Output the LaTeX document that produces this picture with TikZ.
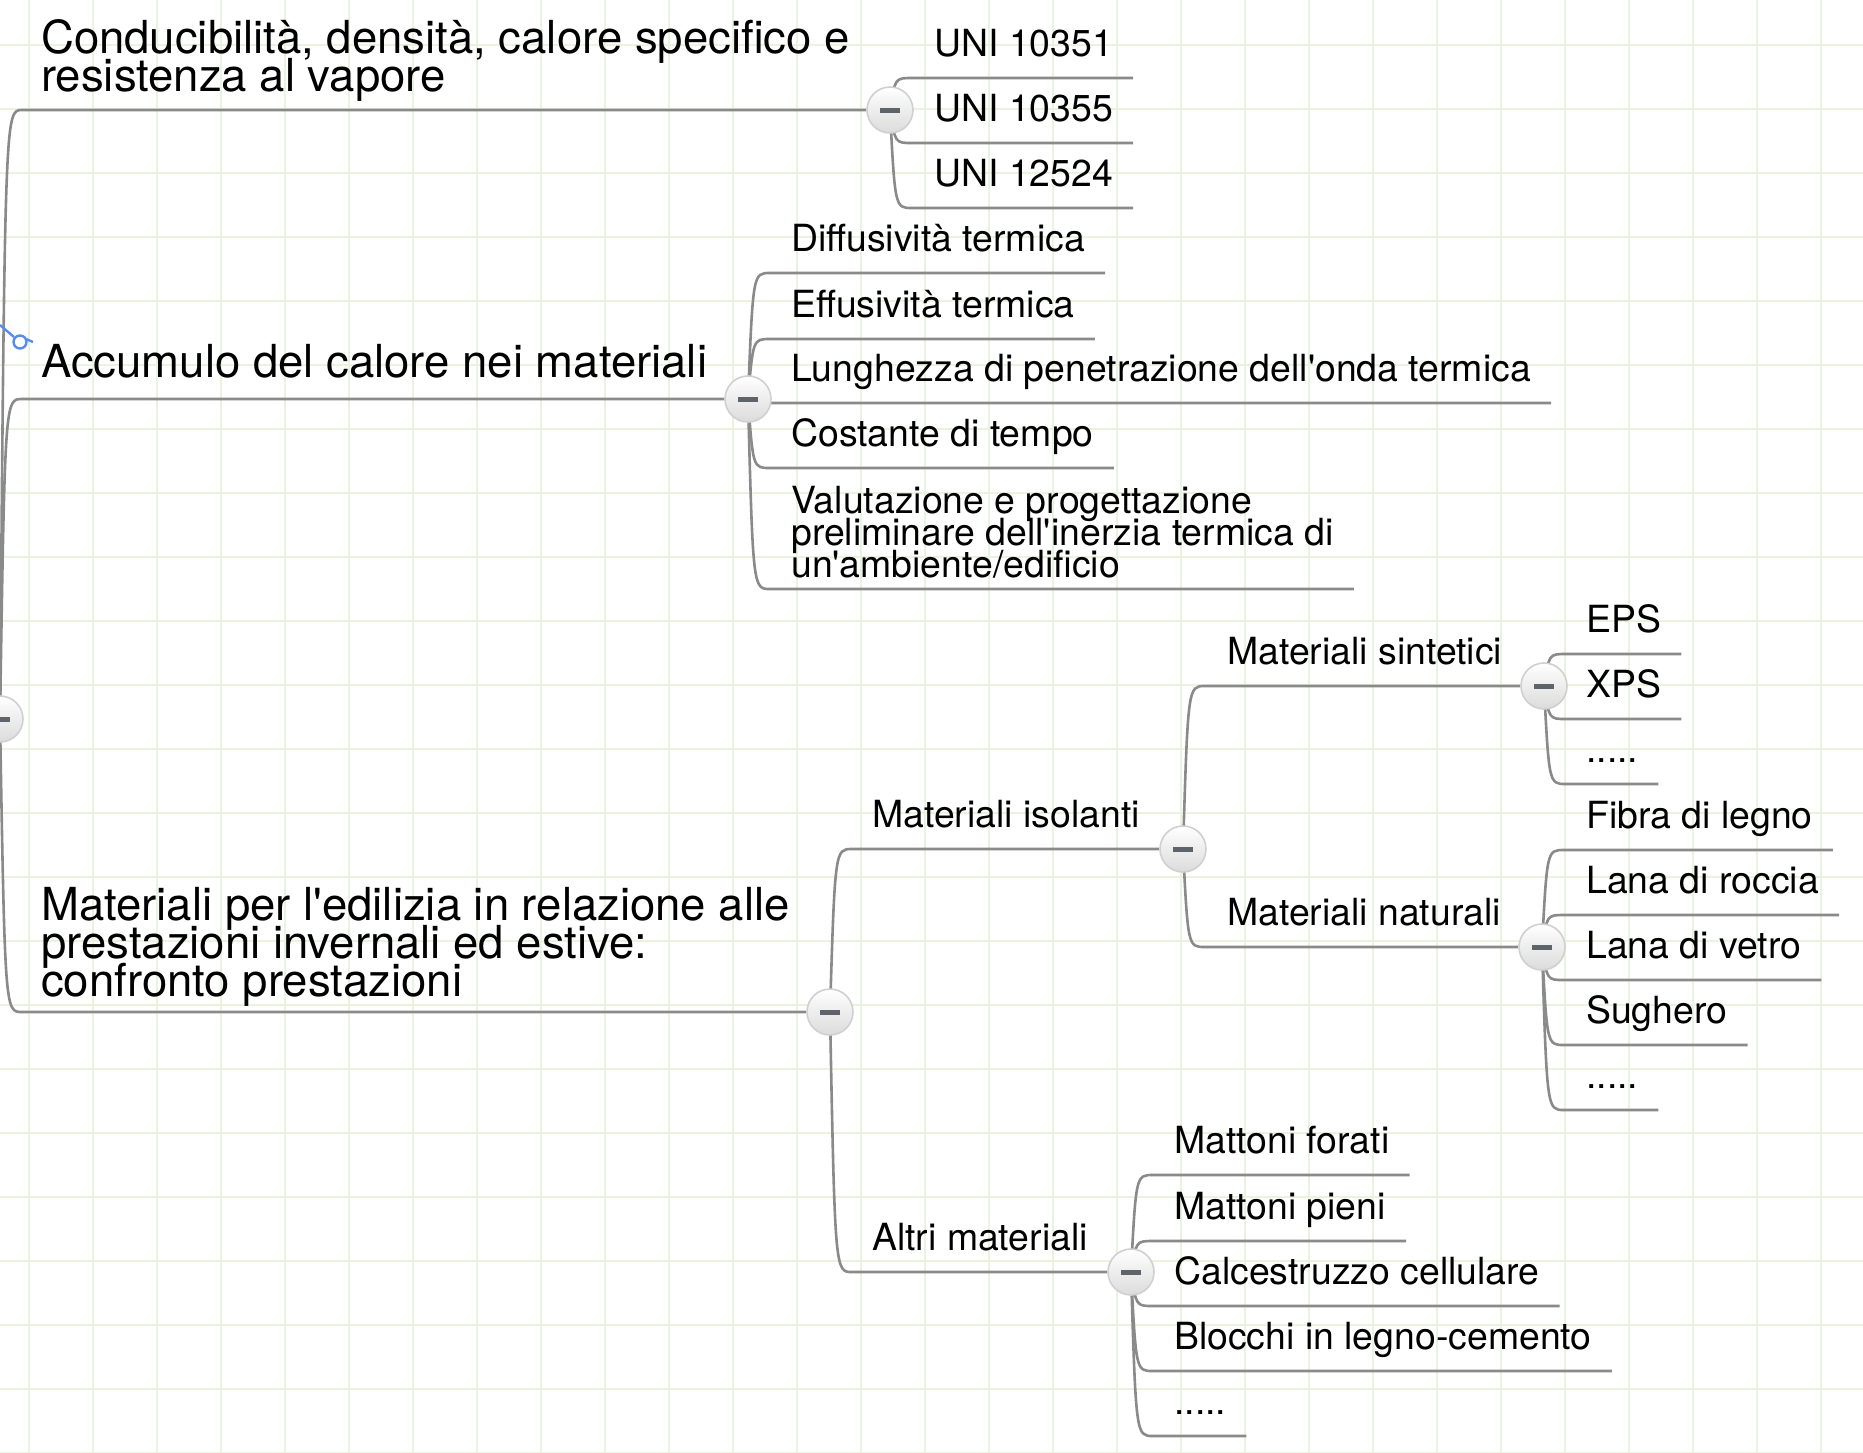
\documentclass[tikz,border=0pt]{standalone}
\usepackage{fontspec}
\setmainfont{TeX Gyre Heros}
\usepackage{tikz}
\definecolor{gridgreen}{RGB}{234,242,224}
\definecolor{linegray}{RGB}{138,138,138}
\definecolor{ringgray}{RGB}{208,208,208}
\definecolor{minusgray}{RGB}{95,100,106}
\definecolor{relblue}{RGB}{88,140,238}
\newcommand{\topicfont}{\fontsize{45.5}{38}\selectfont\lineskiplimit=-60pt}
\newcommand{\leaffont}{\fontsize{37.4}{32}\selectfont\lineskiplimit=-60pt}
\newcommand{\togglebar}{\textcolor{minusgray}{\rule[-2.5pt]{20pt}{5pt}}}
\pgfdeclarelayer{grid}
\pgfdeclarelayer{lines}
\pgfsetlayers{grid,lines,main}

\tikzset{
  toggle/.style={circle, draw=ringgray, line width=1.6pt,
    minimum size=46pt, inner sep=0pt, top color=white, bottom color=black!14},
  topic/.style={font=\topicfont, anchor=south west, inner sep=0pt,
    align=left, text depth=21pt},
  leaf/.style={font=\leaffont, anchor=south west, inner sep=0pt,
    align=left, text depth=21pt},
  branch/.style={draw=linegray, line width=2.6pt},
  gridline/.style={draw=gridgreen, line width=2.5pt},
  elbow/.style={to path={.. controls ([xshift=5pt]\tikztostart |- \tikztotarget)
    and ([xshift=5pt]\tikztostart |- \tikztotarget)
    .. ([xshift=22pt]\tikztostart |- \tikztotarget) -- ([xshift=#1]\tikztotarget)}},
  elbow/.default=0pt
}

\begin{document}
\begin{tikzpicture}[x=1pt,y=-1pt]
\useasboundingbox (0,0) rectangle (1863,1452);
\clip (0,0) rectangle (1863,1452);

% Paper grid
\begin{pgfonlayer}{grid}
\fill[white] (0,0) rectangle (1863,1452);
\foreach \gx in {29,93,...,1821} \draw[gridline] (\gx,0) -- (\gx,1452);
\foreach \gy in {45,109,...,1453} \draw[gridline] (0,\gy) -- (1863,\gy);
\end{pgfonlayer}

% Root toggle
\node[toggle] (root) at (0,719) {\togglebar};

% Topic 1
\node[topic, text depth=18pt] (t1) at (41,110) {Conducibilità, densità, calore specifico e\\resistenza al vapore};
\node[toggle] (t1c) at (890,110) {\togglebar};
\node[leaf] (u1) at (934,78) {UNI 10351};
\node[leaf] (u2) at (934,143) {UNI 10355};
\node[leaf] (u3) at (934,208) {UNI 12524};

% Topic 2
\node[topic] (t2) at (41,399) {Accumulo del calore nei materiali};
\node[toggle] (t2c) at (748,399) {\togglebar};
\node[leaf] (a1) at (791,273) {Diffusività termica};
\node[leaf] (a2) at (791,339) {Effusività termica};
\node[leaf] (a3) at (791,403) {Lunghezza di penetrazione dell\textquotesingle{}onda termica};
\node[leaf] (a4) at (791,468) {Costante di tempo};
\node[leaf, text depth=11pt] (a5) at (791,589) {Valutazione e progettazione\\preliminare dell\textquotesingle{}inerzia termica di\\un\textquotesingle{}ambiente/edificio};

% Topic 3
\node[topic, text depth=15pt] (t3) at (41,1012) {Materiali per l\textquotesingle{}edilizia in relazione alle\\prestazioni invernali ed estive:\\confronto prestazioni};
\node[toggle] (t3c) at (830,1012) {\togglebar};

\node[leaf] (iso) at (872,849) {Materiali isolanti};
\node[toggle] (isoc) at (1183,849) {\togglebar};
\node[leaf] (alt) at (872,1272) {Altri materiali};
\node[toggle] (altc) at (1131,1272) {\togglebar};

\node[leaf] (sin) at (1227,686) {Materiali sintetici};
\node[toggle] (sinc) at (1544,686) {\togglebar};
\node[leaf] (s1) at (1586,654) {EPS};
\node[leaf] (s2) at (1586,719) {XPS};
\node[leaf] (s3) at (1586,784) {.....};

\node[leaf] (nat) at (1227,947) {Materiali naturali};
\node[toggle] (natc) at (1542,947) {\togglebar};
\node[leaf] (n1) at (1586,850) {Fibra di legno};
\node[leaf] (n2) at (1586,915) {Lana di roccia};
\node[leaf] (n3) at (1586,980) {Lana di vetro};
\node[leaf] (n4) at (1586,1045) {Sughero};
\node[leaf] (n5) at (1586,1110) {.....};

\node[leaf] (m1) at (1174,1175) {Mattoni forati};
\node[leaf] (m2) at (1174,1241) {Mattoni pieni};
\node[leaf] (m3) at (1174,1306) {Calcestruzzo cellulare};
\node[leaf] (m4) at (1174,1371) {Blocchi in legno-cemento};
\node[leaf] (m5) at (1174,1436) {.....};

% Connectors
\begin{pgfonlayer}{lines}
\draw[branch] (root.center) to[elbow] (t1c);
\draw[branch] (root.center) to[elbow] (t2c);
\draw[branch] (root.center) to[elbow] (t3c);

\draw[branch] (t1c.center) to[elbow=20pt] (u1.south east);
\draw[branch] (t1c.center) to[elbow=20pt] (u2.south east);
\draw[branch] (t1c.center) to[elbow=20pt] (u3.south east);

\draw[branch] (t2c.center) to[elbow=20pt] (a1.south east);
\draw[branch] (t2c.center) to[elbow=20pt] (a2.south east);
\draw[branch] (t2c.center) to[elbow=20pt] (a3.south east);
\draw[branch] (t2c.center) to[elbow=20pt] (a4.south east);
\draw[branch] (t2c.center) to[elbow=20pt] (a5.south east);

\draw[branch] (t3c.center) to[elbow] (isoc);
\draw[branch] (t3c.center) to[elbow] (altc);
\draw[branch] (isoc.center) to[elbow] (sinc);
\draw[branch] (isoc.center) to[elbow] (natc);

\draw[branch] (sinc.center) to[elbow=20pt] (s1.south east);
\draw[branch] (sinc.center) to[elbow=20pt] (s2.south east);
\draw[branch] (sinc.center) to[elbow=20pt] (s3.south east);

\draw[branch] (natc.center) to[elbow=20pt] (n1.south east);
\draw[branch] (natc.center) to[elbow=20pt] (n2.south east);
\draw[branch] (natc.center) to[elbow=20pt] (n3.south east);
\draw[branch] (natc.center) to[elbow=20pt] (n4.south east);
\draw[branch] (natc.center) to[elbow=20pt] (n5.south east);

\draw[branch] (altc.center) to[elbow=20pt] (m1.south east);
\draw[branch] (altc.center) to[elbow=20pt] (m2.south east);
\draw[branch] (altc.center) to[elbow=20pt] (m3.south east);
\draw[branch] (altc.center) to[elbow=20pt] (m4.south east);
\draw[branch] (altc.center) to[elbow=20pt] (m5.south east);

% relationship end mark
\draw[relblue, line width=2.4pt] (0,325) -- (14,337);
\draw[relblue, line width=2.4pt] (20,342) circle[radius=6.5pt];
\draw[relblue, line width=2.4pt] (26,339) -- (33,342);
\end{pgfonlayer}

\end{tikzpicture}
\end{document}
